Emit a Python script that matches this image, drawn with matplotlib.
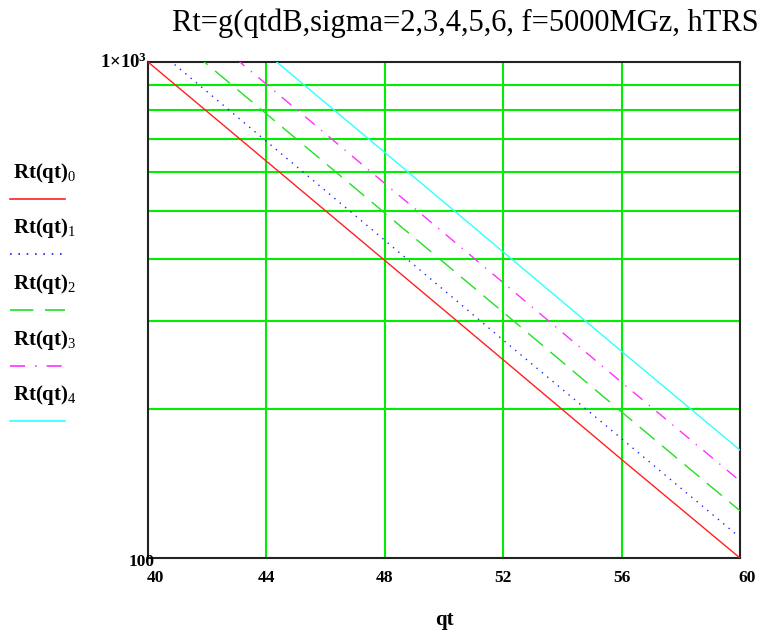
import matplotlib
matplotlib.use("Agg")
import matplotlib.pyplot as plt
from matplotlib.lines import Line2D
from matplotlib.transforms import ScaledTranslation

plt.rcParams['font.family'] = ['Liberation Serif', 'DejaVu Serif']
plt.rcParams['mathtext.fontset'] = 'custom'
plt.rcParams['mathtext.rm'] = 'Liberation Serif'
plt.rcParams['mathtext.bf'] = 'Liberation Serif:bold'
plt.rcParams['mathtext.it'] = 'Liberation Serif:italic'

# Data
qt = [40, 44, 48, 52, 56, 60]
rt0 = [1000, 631, 398, 251, 158, 100]
rt1 = [1096, 692, 437, 275, 174, 110]
rt2 = [1245, 786, 496, 313, 197, 124.5]
rt3 = [1429, 902, 569, 359, 226, 143]
rt4 = [1650, 1041, 657, 414, 261, 165]
series = [rt0, rt1, rt2, rt3, rt4]
labels = ["0", "1", "2", "3", "4"]
colors = ["#ff2020", "#2020ff", "#20e020", "#ff30ff", "#30ffff"]
styles = ["-", (0, (1, 4)), (0, (14, 7)), (0, (9, 6, 1, 6)), "-"]
xticks = [40, 44, 48, 52, 56, 60]
ygrid = [200, 300, 400, 500, 600, 700, 800, 900]
title = "Rt=g(qtdB,sigma=2,3,4,5,6, f=5000MGz, hTRS"

W, H = 767.0, 634.0
fig = plt.figure(figsize=(7.67, 6.34), dpi=100)
ax = fig.add_axes([148 / W, 1 - 558 / H, (740 - 148) / W, (558 - 62) / H])
ax.set_yscale('log')
ax.set_xlim(40, 60)
ax.set_ylim(100, 1000)

for x in xticks[1:-1]:
    ax.axvline(x, color="#00ee00", lw=1.5, zorder=1)
for y in ygrid:
    ax.axhline(y, color="#00ee00", lw=1.5, zorder=1)

for s, c, ls in zip(series, colors, styles):
    ax.plot(qt, s, color=c, lw=1.0, linestyle=ls, zorder=3)

ax.set_xticks(xticks)
ax.set_xticklabels([str(v) for v in xticks], fontsize=12.5, fontweight='bold')
ax.set_yticks([])
ax.yaxis.set_minor_locator(matplotlib.ticker.NullLocator())
ax.tick_params(axis='x', length=0, pad=9)
tl = ax.get_xticklabels()
for lab in (tl[0], tl[-1]):
    lab.set_transform(lab.get_transform() + ScaledTranslation(7 / 100, 0, fig.dpi_scale_trans))
for sp in ax.spines.values():
    sp.set_linewidth(1.5)
    sp.set_color("#222222")

fig.text(155 / W, 1 - 562 / H, "100", ha='right', va='center', fontsize=12.5, fontweight='bold')
fig.text(147 / W, 1 - 62 / H, r"$\mathbf{1{\times}10^{3}}$", ha='right', va='center', fontsize=13.5)
fig.text(0.58, 0.022, "qt", ha='center', va='center', fontsize=15, fontweight='bold')
fig.text(172 / W, 1 - 23 / H, title, ha='left', va='center', fontsize=22)

for i, (lab, c, ls) in enumerate(zip(labels, colors, styles)):
    ty = 1 - (173 + 55.5 * i) / H
    ly = 1 - (199 + 55.5 * i) / H
    fig.text(13 / W, ty, r"$\mathbf{Rt(qt)}_{" + lab + "}$", ha='left', va='center', fontsize=15)
    fig.add_artist(Line2D([10 / W, 65 / W], [ly, ly], color=c, lw=1.2, linestyle=ls,
                          transform=fig.transFigure))

fig.savefig("out.png", dpi=100)
